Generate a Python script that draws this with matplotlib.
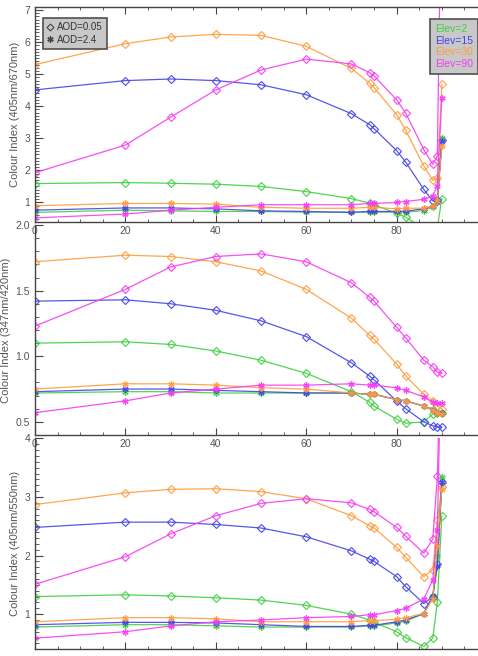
# Colour index vs solar zenith angle for low/high aerosol and several elevations
import matplotlib.pyplot as plt
from matplotlib.lines import Line2D
from matplotlib.ticker import MultipleLocator

plt.rcParams['font.family'] = ['Liberation Sans', 'DejaVu Sans']

# Solar zenith angle (deg)
sza = [0, 20, 30, 40, 50, 60, 70, 74, 75, 80, 82, 86, 88, 89, 90]

# Colour index 405nm/670nm, AOD=0.05
ci670_a1_e2 = [1.59, 1.62, 1.60, 1.57, 1.50, 1.34, 1.12, 0.98, 0.93, 0.66, 0.54, 0.19, 0.15, 0.22, 1.12]
ci670_a1_e15 = [4.51, 4.80, 4.85, 4.80, 4.67, 4.36, 3.77, 3.43, 3.30, 2.62, 2.26, 1.41, 1.05, 1.07, 2.95]
ci670_a1_e30 = [5.30, 5.95, 6.16, 6.24, 6.21, 5.87, 5.18, 4.72, 4.58, 3.74, 3.25, 2.14, 1.69, 1.76, 4.68]
ci670_a1_e90 = [1.93, 2.79, 3.66, 4.51, 5.13, 5.47, 5.32, 5.05, 4.95, 4.20, 3.79, 2.65, 2.19, 2.45, 12.0]
# Colour index 405nm/670nm, AOD=2.4
ci670_a2_e2 = [0.69, 0.76, 0.74, 0.72, 0.72, 0.70, 0.70, 0.70, 0.70, 0.70, 0.70, 0.75, 0.85, 1.05, 3.01]
ci670_a2_e15 = [0.76, 0.83, 0.83, 0.80, 0.74, 0.72, 0.69, 0.72, 0.72, 0.72, 0.73, 0.80, 0.90, 1.00, 2.91]
ci670_a2_e30 = [0.90, 0.97, 0.97, 0.95, 0.85, 0.82, 0.82, 0.85, 0.85, 0.80, 0.82, 0.82, 0.90, 1.05, 2.76]
ci670_a2_e90 = [0.52, 0.64, 0.76, 0.85, 0.93, 0.93, 0.93, 0.97, 0.97, 1.00, 1.03, 1.10, 1.21, 1.52, 4.25]

# Colour index 347nm/420nm, AOD=0.05
ci420_a1_e2 = [1.10, 1.11, 1.09, 1.04, 0.97, 0.87, 0.73, 0.65, 0.62, 0.52, 0.49, 0.50, 0.56, 0.57, 0.57]
ci420_a1_e15 = [1.42, 1.43, 1.40, 1.35, 1.27, 1.15, 0.95, 0.85, 0.82, 0.66, 0.60, 0.50, 0.47, 0.46, 0.46]
ci420_a1_e30 = [1.72, 1.77, 1.76, 1.72, 1.65, 1.51, 1.29, 1.16, 1.13, 0.94, 0.85, 0.71, 0.66, 0.62, 0.60]
ci420_a1_e90 = [1.23, 1.51, 1.68, 1.76, 1.78, 1.72, 1.56, 1.45, 1.42, 1.22, 1.14, 0.97, 0.92, 0.88, 0.87]
# Colour index 347nm/420nm, AOD=2.4
ci420_a2_e2 = [0.72, 0.73, 0.73, 0.72, 0.72, 0.72, 0.72, 0.71, 0.71, 0.67, 0.66, 0.62, 0.60, 0.57, 0.57]
ci420_a2_e15 = [0.73, 0.75, 0.75, 0.74, 0.73, 0.72, 0.72, 0.71, 0.71, 0.67, 0.66, 0.62, 0.59, 0.57, 0.57]
ci420_a2_e30 = [0.75, 0.79, 0.79, 0.78, 0.76, 0.75, 0.72, 0.71, 0.71, 0.67, 0.66, 0.62, 0.59, 0.57, 0.56]
ci420_a2_e90 = [0.57, 0.66, 0.72, 0.75, 0.78, 0.78, 0.79, 0.78, 0.78, 0.76, 0.74, 0.69, 0.65, 0.64, 0.64]

# Colour index 405nm/550nm, AOD=0.05
ci550_a1_e2 = [1.30, 1.33, 1.31, 1.28, 1.24, 1.15, 1.00, 0.90, 0.86, 0.70, 0.60, 0.45, 0.59, 1.20, 2.68]
ci550_a1_e15 = [2.48, 2.57, 2.57, 2.53, 2.47, 2.32, 2.08, 1.94, 1.90, 1.64, 1.47, 1.18, 1.30, 1.86, 3.25]
ci550_a1_e30 = [2.87, 3.07, 3.13, 3.14, 3.09, 2.97, 2.68, 2.51, 2.47, 2.14, 1.97, 1.64, 1.76, 2.60, 3.17]
ci550_a1_e90 = [1.51, 1.98, 2.37, 2.68, 2.89, 2.97, 2.90, 2.79, 2.75, 2.48, 2.33, 2.04, 2.28, 3.35, 6.00]
# Colour index 405nm/550nm, AOD=2.4
ci550_a2_e2 = [0.78, 0.82, 0.82, 0.80, 0.78, 0.78, 0.78, 0.80, 0.80, 0.85, 0.88, 1.01, 1.31, 2.00, 3.34]
ci550_a2_e15 = [0.82, 0.86, 0.86, 0.85, 0.82, 0.79, 0.79, 0.81, 0.81, 0.87, 0.90, 1.01, 1.31, 1.83, 3.25]
ci550_a2_e30 = [0.87, 0.94, 0.94, 0.92, 0.87, 0.87, 0.87, 0.89, 0.89, 0.91, 0.94, 1.01, 1.26, 2.17, 3.14]
ci550_a2_e90 = [0.59, 0.70, 0.80, 0.87, 0.90, 0.94, 0.96, 0.99, 0.99, 1.06, 1.10, 1.26, 1.58, 2.43, 6.00]

elev_labels = ['Elev=2', 'Elev=15', 'Elev=30', 'Elev=90']
aod_labels = ['AOD=0.05', 'AOD=2.4']
colors = ['#3fd03f', '#4444e6', '#ff9c3c', '#f53cf5']

panels = [
    ('Colour Index (405nm/670nm)', (0.4, 7.1), 1, 0.1,
     [ci670_a1_e2, ci670_a1_e15, ci670_a1_e30, ci670_a1_e90],
     [ci670_a2_e2, ci670_a2_e15, ci670_a2_e30, ci670_a2_e90]),
    ('Colour Index (347nm/420nm)', (0.4, 2.0), 0.5, 0.1,
     [ci420_a1_e2, ci420_a1_e15, ci420_a1_e30, ci420_a1_e90],
     [ci420_a2_e2, ci420_a2_e15, ci420_a2_e30, ci420_a2_e90]),
    ('Colour Index (405nm/550nm)', (0.4, 4.0), 1, 0.1,
     [ci550_a1_e2, ci550_a1_e15, ci550_a1_e30, ci550_a1_e90],
     [ci550_a2_e2, ci550_a2_e15, ci550_a2_e30, ci550_a2_e90]),
]

# axes rectangles in figure fractions (left, bottom, width, height)
rects = [(0.0732, 0.662, 0.9268, 0.3276),
         (0.0732, 0.3369, 0.9268, 0.3201),
         (0.0732, 0.0102, 0.9268, 0.3216)]

fig = plt.figure(figsize=(4.78, 6.56), dpi=100)
axc = '#444444'
star = (6, 2, 0)

axes = []
for i, (ylab, ylim, major, minor, low, high) in enumerate(panels):
    ax = fig.add_axes(rects[i])
    ax.patch.set_visible(False)
    for c, ys in zip(colors, low):
        ax.plot(sza, ys, color=c, lw=0.9, marker='D', ms=3.8, mfc='none', mew=0.85, alpha=0.9)
    for c, ys in zip(colors, high):
        ax.plot(sza, ys, color=c, lw=0.9, marker=star, ms=4.5, mew=1.0, alpha=0.9)

    ax.set_xlim(0, 98.0)
    ax.set_ylim(*ylim)
    ax.xaxis.set_major_locator(MultipleLocator(20))
    ax.xaxis.set_minor_locator(MultipleLocator(5))
    ax.yaxis.set_major_locator(MultipleLocator(major))
    ax.yaxis.set_minor_locator(MultipleLocator(minor))
    if i == 1:
        ax.yaxis.set_major_formatter(lambda v, p: f'{v:.1f}')
    else:
        ax.yaxis.set_major_formatter(lambda v, p: f'{v:.0f}')

    ax.spines['right'].set_visible(False)
    ax.spines['top'].set_visible(i == 0)
    for s in ax.spines.values():
        s.set_color(axc)
        s.set_linewidth(1.0)
    ax.tick_params(axis='both', which='both', direction='in', colors=axc,
                   labelsize=7.5, labelcolor='#555555')
    ax.tick_params(axis='x', which='major', length=5, pad=3)
    ax.tick_params(axis='x', which='minor', length=2.5)
    ax.tick_params(axis='y', which='major', length=6, pad=3.5)
    ax.tick_params(axis='y', which='minor', length=3)
    if i == 0:
        ax.tick_params(axis='x', which='both', top=True)
    if i == 2:
        # the bottom panel's x labels fall below the picture edge
        ax.tick_params(axis='x', labelbottom=False)
    ax.set_ylabel(ylab, fontsize=8, color='#555555', labelpad=3)
    axes.append(ax)

# legends on the top panel
ax = axes[0]
h_aod = [Line2D([], [], ls='none', marker='D', ms=3.5, mfc='none', mec='#444444', mew=0.8),
         Line2D([], [], ls='none', marker=star, ms=4.5, mec='#444444', mew=1.0)]
leg1 = ax.legend(h_aod, aod_labels, loc='upper left', bbox_to_anchor=(0.018, 0.948),
                 borderaxespad=0, fontsize=7, handlelength=0.6, handletextpad=0.4,
                 labelspacing=0.25, borderpad=0.45, fancybox=False, framealpha=1,
                 facecolor='#c8c8c8', edgecolor='#505050', labelcolor='#333333')
leg1.get_frame().set_linewidth(1.2)
ax.add_artist(leg1)

h_elev = [Line2D([], [], ls='none') for _ in elev_labels]
leg2 = ax.legend(h_elev, elev_labels, loc='upper right', bbox_to_anchor=(1.0, 0.943),
                 borderaxespad=0, fontsize=7.5, handlelength=0, handletextpad=0,
                 labelspacing=0.15, borderpad=0.5, fancybox=False, framealpha=1,
                 facecolor='#c8c8c8', edgecolor='#505050', labelcolor=colors)
leg2.get_frame().set_linewidth(1.2)

plt.savefig('out.png', dpi=100)
